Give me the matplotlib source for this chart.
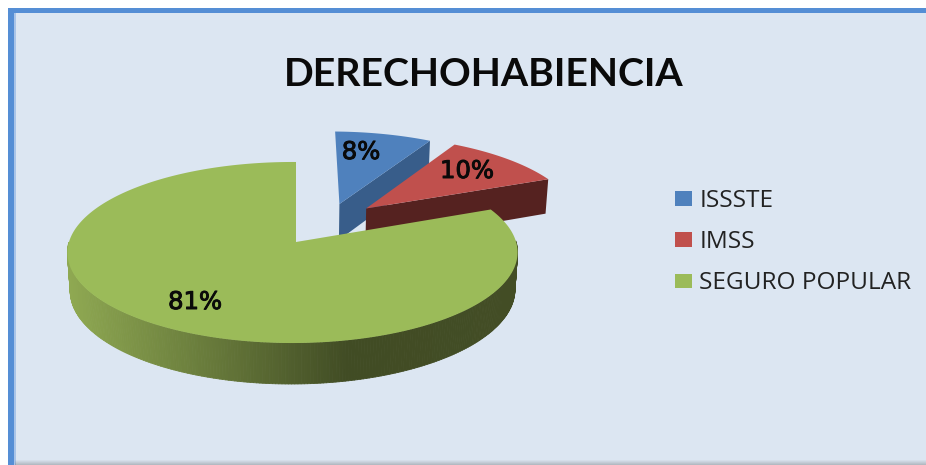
import numpy as np
import matplotlib
matplotlib.use("Agg")
import matplotlib.pyplot as plt
import matplotlib.patheffects as pe
from matplotlib.collections import PolyCollection
from matplotlib.colors import LinearSegmentedColormap
from matplotlib.patches import Patch

title = "DERECHOHABIENCIA"
categories = ["ISSSTE", "IMSS", "SEGURO POPULAR"]
values = [8.2, 10.5, 81.3]
top_colors = ["#4F81BD", "#C0504D", "#9BBB59"]
side_colors = ["#385D8A", "#552220", "#414C24"]
explode_xy = [(0.205, 0.449), (0.33, 0.395), (0.0, 0.0)]
label_xy = [(361, 152), (467, 171), (195, 302)]

W, H = 926, 465
plt.rcParams["font.family"] = ["Lato", "DejaVu Sans"]
fig = plt.figure(figsize=(W / 100, H / 100), dpi=100, facecolor="white")
ax = fig.add_axes([0, 0, 1, 1])
ax.set_xlim(0, W)
ax.set_ylim(H, 0)
ax.axis("off")

# panel and frame
ax.fill([8, W, W, 8], [8, 8, H, H], color="#DCE6F2", lw=0, zorder=0)
ax.fill([8, W, W, 8], [8, 8, 13, 13], color="#558ED5", lw=0, zorder=1)
ax.fill([8, 14, 14, 8], [8, 8, H, H], color="#558ED5", lw=0, zorder=1)
ax.fill([14, 15.5, 15.5, 14], [13, 13, H, H], color="#A9C4E8", lw=0, zorder=1)
for i, a in enumerate(np.linspace(0.05, 0.3, 5)):
    ax.fill([15, W, W, 15], [460 + i, 460 + i, 461 + i, 461 + i], color="#555555", alpha=a, lw=0, zorder=1)

# perspective of the pie's plane
X0, Y0, A, B, K, M, DEPTH, E = 296, 242, 223.5, 89.3, 0.116, 0.0155, 37.9, 0.012


def project(x, y, lower=False):
    w = 1 + K * y + M * x + (E if lower else 0)
    d = DEPTH if lower else 0
    return X0 + A * x / w, Y0 + (d - B * y) / w


side_cmap = LinearSegmentedColormap.from_list(
    "g", [(0, "#8FA952"), (0.62, "#414C24"), (1, "#434D25")]
)

start = 90.0
z = 2
total = sum(values)
for val, top, side, (ex, ey) in zip(values, top_colors, side_colors, explode_xy):
    t1, t2 = start - 360 * val / total, start
    start = t1
    t = np.radians(np.linspace(t1, t2, 400))
    rx, ry = ex + np.cos(t), ey + np.sin(t)
    ux, uy = project(rx, ry)
    lx, ly = project(rx, ry, True)
    ax_, ay_ = project(ex, ey)
    bx_, by_ = project(ex, ey, True)
    if val > 50:
        # outer wall, shaded left to right
        quads = [
            [(ux[i], uy[i]), (ux[i + 1], uy[i + 1]), (lx[i + 1], ly[i + 1]), (lx[i], ly[i])]
            for i in range(len(t) - 1)
            if np.sin(t[i]) < 0
        ]
        cols = [side_cmap((q[0][0] - 67) / (518 - 67)) for q in quads]
        ax.add_collection(PolyCollection(quads, facecolors=cols, edgecolors=cols, linewidths=0.6, zorder=z))
    else:
        # radial cut face at the slice's clockwise edge
        ax.fill([ax_, ux[0], lx[0], bx_], [ay_, uy[0], ly[0], by_], color=side, lw=0, zorder=z)
    ax.fill(np.r_[ax_, ux], np.r_[ay_, uy], color=top, lw=0, zorder=z + 1)
    z += 2

for val, (lx_, ly_) in zip(values, label_xy):
    ax.text(lx_, ly_, f"{val:.0f}%", ha="center", va="center", fontsize=17.5,
            family="DejaVu Sans", color="#0A0A0A", zorder=20,
            path_effects=[pe.withStroke(linewidth=0.7, foreground="#0A0A0A")])

ax.text(484, 74, title, ha="center", va="center", fontsize=28.3, fontweight="bold",
        color="#0A0A0A", zorder=20)

handles = [Patch(facecolor=c, edgecolor="none") for c in top_colors]
leg = ax.legend(handles, categories, loc="center left", bbox_to_anchor=(0.729, 0.479),
                bbox_transform=ax.transAxes, frameon=False,
                prop={"family": "Open Sans", "size": 17.6}, labelcolor="#222222",
                handlelength=0.70, handleheight=0.53, handletextpad=0.29, labelspacing=0.70,
                borderpad=0, borderaxespad=0)

fig.savefig("out.png", dpi=100, facecolor="white")
